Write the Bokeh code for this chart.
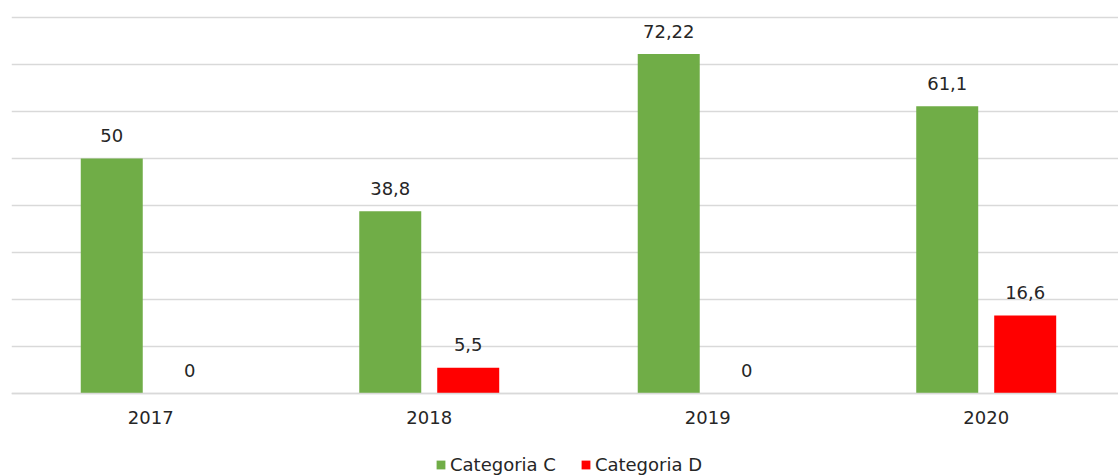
import numpy as np
from bokeh.plotting import figure
from bokeh.models import ColumnDataSource, Range1d, FixedTicker, Legend, LegendItem
from bokeh.embed import file_html
from bokeh.resources import INLINE
from bokeh.core.properties import value

# ---- data ----
years = ["2017", "2018", "2019", "2020"]
cat_c = [50, 38.8, 72.22, 61.1]
cat_d = [0, 5.5, 0, 16.6]
series_names = ["Categoria C", "Categoria D"]
series_colors = ["#70AD47", "#FF0000"]
y_ticks = [0, 10, 20, 30, 40, 50, 60, 70, 80]

FONT = "DejaVu Sans"
TEXT_COLOR = "#262626"
GRID_COLOR = "#d9d9d9"

centers = np.arange(len(years)) + 0.5
offsets = [-0.14, 0.14]
bar_w = 0.2226

PX_PER_UNIT = 4.7          # vertical scale
BELOW_PX = 82              # space under the baseline for labels + legend
ABOVE_PX = 383             # frame height above the baseline


def fmt(v):
    return f"{v:g}".replace(".", ",")


p = figure(width=1118, height=475,
           x_range=Range1d(0, 3.975),
           y_range=Range1d(-BELOW_PX / PX_PER_UNIT, ABOVE_PX / PX_PER_UNIT),
           output_backend="svg", toolbar_location=None,
           min_border_left=11, min_border_right=0, min_border_top=10,
           min_border_bottom=0)
p.outline_line_color = None
p.background_fill_color = "white"
p.border_fill_color = "white"

renderers = []
for vals, off, col in zip([cat_c, cat_d], offsets, series_colors):
    src = ColumnDataSource(dict(x=centers + off, top=vals,
                                lbl=[fmt(v) for v in vals]))
    r = p.vbar(x="x", top="top", width=bar_w, bottom=0, source=src,
               fill_color=col, line_color=None)
    renderers.append(r)
    p.text(x="x", y="top", text="lbl", source=src, text_align="center",
           text_baseline="alphabetic", y_offset=-23,
           text_font=value(FONT), text_font_size="18px", text_color=TEXT_COLOR)

# grid
p.xgrid.visible = False
p.ygrid.ticker = FixedTicker(ticks=y_ticks)
p.ygrid.grid_line_color = GRID_COLOR
p.ygrid.grid_line_width = 1.5

# axes
p.yaxis.visible = False
xa = p.xaxis[0]
xa.fixed_location = 0
xa.ticker = FixedTicker(ticks=list(centers))
xa.major_label_overrides = {float(c): y for c, y in zip(centers, years)}
xa.major_tick_line_color = None
xa.minor_tick_line_color = None
xa.major_tick_out = 0
xa.major_tick_in = 0
xa.major_label_standoff = 17
xa.axis_line_color = GRID_COLOR
xa.axis_line_width = 1.5
xa.major_label_text_font = FONT
xa.major_label_text_font_size = "18px"
xa.major_label_text_color = TEXT_COLOR

legend = Legend(items=[LegendItem(label=n, renderers=[r])
                       for n, r in zip(series_names, renderers)],
                orientation="horizontal", location=(424, 0),
                border_line_color=None, background_fill_alpha=0,
                glyph_width=11, glyph_height=11, label_standoff=4,
                spacing=24, padding=0, margin=0,
                label_text_font=FONT, label_text_font_size="18px",
                label_text_color=TEXT_COLOR)
p.add_layout(legend, "center")

open("out.html", "w").write(file_html(p, INLINE))
